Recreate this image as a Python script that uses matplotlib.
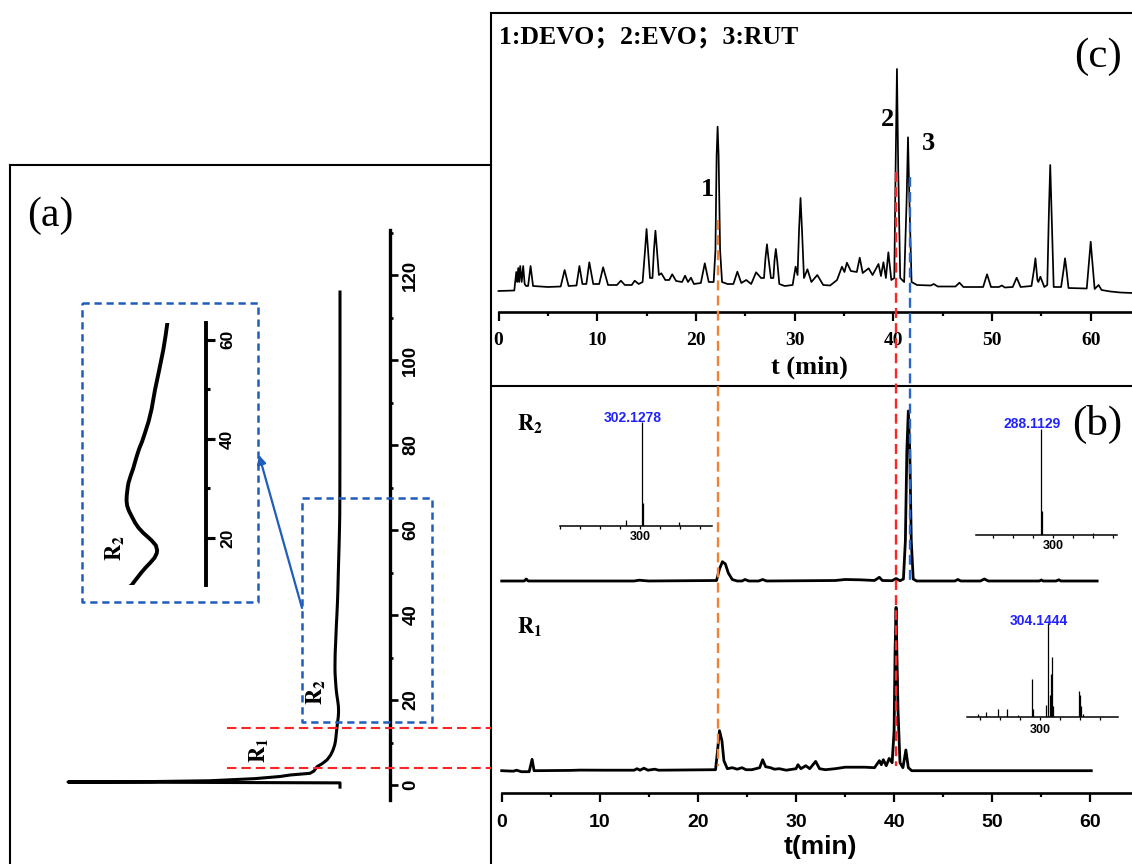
import matplotlib

matplotlib.use("Agg")
import matplotlib.pyplot as plt
from matplotlib.ticker import FixedLocator, MultipleLocator, NullFormatter

plt.rcParams["mathtext.fontset"] = "stix"

SERIF = "Liberation Serif"
SANS = "Liberation Sans"
BLUE = "#1f5dbd"
ORANGE = "#ee8335"
RED = "#ff2424"
MS_BLUE = "#2222ff"

# ---------------- data ----------------
# (a) CCC elution profile: time (min) vs. absorbance (rotated plot)
a_time = [-0.5, 0.5, 0.62, 0.7, 0.8, 1.0, 1.5, 2.0, 2.35, 2.75,
          3.3, 4.3, 5.0, 5.9, 7.0, 8.2, 9.5, 10.5, 11.0, 12.0,
          13.0, 14.0, 15.0, 16.0, 16.9, 17.5, 18.5, 19.5, 20.3, 21.0,
          22.0, 23.0, 24.3, 25.5, 26.5, 27.5, 28.5, 30.0, 31.1, 32.5,
          34.0, 35.5, 36.5, 38.0, 39.5, 41.2, 43.5, 46.0, 49.9, 54.0,
          58.0, 61.0, 63.4, 68.0, 75.0, 85.0, 100.0, 116.0]
a_signal = [0, 0, 150, 272, 190, 130, 85, 60, 50, 30,
            26, 23, 18, 13, 9.5, 7.0, 5.2, 4.4, 4.2, 3.75,
            3.3, 2.8, 2.25, 1.75, 1.5, 1.45, 1.6, 2.1, 2.6, 3.06,
            3.6, 4.0, 4.4, 4.75, 4.95, 5.02, 5.0, 4.9, 4.8, 4.55,
            4.25, 4.0, 3.83, 3.55, 3.2, 2.87, 2.45, 2.1, 1.7, 1.2,
            0.73, 0.45, 0.26, 0.15, 0.1, 0.05, 0.0, 0.0]
a_ticks = [0, 20, 40, 60, 80, 100, 120]
a_zoom_ticks = [20, 40, 60]

# (c) crude extract HPLC
c_time = [0.0, 1.6, 1.8, 1.9, 2.0, 2.1, 2.2, 2.35, 2.5, 2.65,
          2.8, 3.0, 3.25, 3.5, 5.0, 6.3, 6.7, 7.1, 7.9, 8.2,
          8.5, 8.9, 9.2, 9.6, 10.2, 10.6, 11.1, 12.0, 12.4, 12.8,
          13.5, 13.8, 14.2, 14.6, 14.85, 15.0, 15.15, 15.35, 15.6, 15.75,
          15.9, 16.05, 16.25, 16.5, 16.9, 17.3, 17.6, 18.0, 18.6, 18.9,
          19.2, 19.5, 19.8, 20.5, 20.9, 21.3, 21.8, 21.98, 22.1, 22.2,
          22.3, 22.45, 22.65, 23.2, 23.8, 24.2, 24.6, 25.1, 25.6, 26.1,
          26.6, 26.9, 27.05, 27.2, 27.35, 27.6, 27.85, 27.97, 28.1, 28.25,
          28.45, 29.0, 29.8, 30.1, 30.3, 30.45, 30.6, 30.75, 30.95, 31.3,
          31.7, 32.3, 32.9, 33.6, 34.3, 34.8, 35.05, 35.3, 35.7, 36.3,
          36.6, 36.9, 37.5, 37.9, 38.5, 38.75, 39.0, 39.25, 39.5, 39.8,
          40.1, 40.23, 40.37, 40.5, 40.7, 41.1, 41.35, 41.49, 41.63, 41.85,
          42.4, 43.8, 44.1, 44.5, 46.3, 46.7, 47.1, 49.1, 49.5, 49.9,
          50.7, 51.0, 51.3, 52.1, 52.5, 52.9, 54.0, 54.25, 54.4, 54.6,
          54.7, 54.9, 55.3, 55.6, 55.77, 55.9, 56.03, 56.25, 57.0, 57.25,
          57.4, 57.55, 57.75, 59.6, 59.85, 60.0, 60.15, 60.4, 60.8, 61.1,
          62.0, 63.0, 64.2]
c_signal = [-1, -0.5, 18, 8, 22, 8, 24, 8, 24, 6,
            4, 4, 24, 4, 3, 3.5, 20, 4, 4.5, 24,
            6, 6, 27.7, 6, 6, 22.7, 5, 5, 9.3, 5,
            5, 9.3, 6, 8, 40, 61, 40, 12, 12, 40,
            59.3, 40, 15, 16.7, 10, 10, 15.7, 9, 8, 14.3,
            8, 12.3, 6, 7, 26.7, 8, 8, 40, 135, 163.3,
            135, 40, 8, 6, 6, 18.3, 7, 10, 6, 17.7,
            12, 12, 32, 45.7, 32, 12, 12, 30, 41, 28,
            6, 4, 5, 23.3, 15, 60, 92, 60, 12, 20.7,
            8, 15, 5, 4.5, 10, 23.3, 18, 27.3, 19, 18,
            32.3, 17, 21.7, 15, 26, 14, 27.7, 12, 37.7, 10,
            12, 120, 221, 120, 12, 8, 90, 152.7, 90, 8,
            5, 4.5, 6, 3.5, 3.5, 7.3, 3, 3, 15.7, 3,
            3, 4.5, 2.5, 3, 12.3, 3, 4, 20, 31.7, 10,
            8, 13.3, 3, 5, 80, 125, 80, 3, 3, 20,
            31.7, 20, 2, 1.5, 30, 48.3, 30, 1, 5, 0,
            -1.5, -2.5, -3]
c_ticks = [0, 10, 20, 30, 40, 50, 60]

# (b) fractions R2 and R1
b2_time = [0.0, 2.3, 2.5, 2.7, 13.5, 14.0, 15.0, 21.9, 22.2, 22.5,
           22.8, 23.1, 23.5, 24.0, 24.5, 24.8, 25.2, 26.2, 26.6, 27.0,
           34.0, 35.0, 36.5, 38.0, 38.5, 38.8, 39.8, 40.2, 40.6, 40.95,
           41.15, 41.3, 41.45, 41.6, 41.75, 41.95, 42.3, 46.2, 46.5, 46.8,
           48.8, 49.2, 49.6, 54.8, 55.0, 55.2, 56.5, 56.8, 57.0, 60.7]
b2_signal = [0, 0, 2, 0, 0, 0.8, 0, 0.5, 12, 19.3,
             17, 8, 1.5, 0, 0, 1.5, 0, 0, 1.5, 0,
             0.5, 1.5, 1.2, 0.5, 3.7, 0.5, 0.3, 2.5, 0.3, 2,
             40, 130, 170, 130, 40, 2, 0, 0, 1.5, 0,
             0, 2, 0, 0, 1, 0, 0, 1.2, 0, 0]
b1_time = [0.0, 1.2, 1.5, 2.0, 2.8, 3.1, 3.3, 7.0, 8.0, 10.5,
           13.5, 13.8, 14.1, 14.5, 14.9, 15.6, 16.0, 21.8, 22.0, 22.2,
           22.45, 22.65, 23.0, 23.5, 24.0, 24.5, 24.9, 25.5, 26.3, 26.6,
           26.9, 27.4, 27.8, 28.3, 29.0, 30.0, 30.2, 30.5, 31.0, 31.4,
           32.0, 32.4, 33.0, 34.0, 35.0, 37.0, 38.0, 38.5, 38.7, 38.9,
           39.2, 39.5, 39.8, 40.0, 40.1, 40.2, 40.3, 40.4, 40.6, 40.9,
           41.2, 41.45, 41.8, 60.1]
b1_signal = [0, -0.5, 0.5, -1, -1, 11.4, 0, 0.3, 0.6, 0.5,
             0.5, 2, 0.5, 2.5, 0.5, 1.5, 0.5, 1, 20, 40,
             30, 10, 2, 3, 1.5, 3, 1, 1, 3, 11,
             4, 3, 1.5, 2, 0.5, 2, 6, 2, 5, 2,
             9.3, 2, 1, 2, 3.5, 3.5, 3, 10, 6, 11,
             5, 12.3, 8, 40, 120, 163.3, 110, 60, 8, 3,
             20.7, 3, 0, 0]
b_ticks = [0, 10, 20, 30, 40, 50, 60]

# MS spectra (m/z, relative intensity %)
ms1_mz = [285.7, 302.13, 303.13, 339.0]
ms1_int = [5.5, 100, 21.8, 3.8]
ms2_mz = [288.11, 289.11, 339.5]
ms2_int = [100, 22.5, 2.0]
ms3_mz = [268.9, 273.0, 279.2, 283.7, 289.2, 295.9, 296.5, 302.9, 304.14,
          304.8, 305.5, 305.9, 306.6, 319.3, 320.0, 320.7, 321.3]
ms3_int = [2.9, 4.7, 8.2, 8.2, 1.6, 40, 8.2, 12.5, 100,
           23.2, 45.7, 64.2, 11.5, 27.8, 23.2, 11.5, 2.9]

# ---------------- figure ----------------
W, H = 1132, 864
fig = plt.figure(figsize=(W / 100, H / 100), dpi=100)


def px_axes(x0, y0, x1, y1):
    ax = fig.add_axes([x0 / W, 1 - y1 / H, (x1 - x0) / W, (y1 - y0) / H])
    ax.patch.set_visible(False)
    for sp in ax.spines.values():
        sp.set_visible(False)
    return ax


def rotated_axis(ax, ticks, size, lw, major_len, minor_len, pad):
    ax.spines["right"].set_visible(True)
    ax.spines["right"].set_linewidth(lw)
    ax.set_xticks([])
    ax.yaxis.tick_right()
    ax.set_yticks(ticks)
    ax.set_yticklabels([str(v) for v in ticks], rotation=90, fontsize=size,
                       fontweight="bold", fontfamily=SANS, va="center")
    ax.yaxis.set_minor_locator(MultipleLocator(10))
    ax.tick_params(axis="y", which="major", direction="out", length=major_len,
                   width=lw * 0.8, pad=pad)
    ax.tick_params(axis="y", which="minor", direction="out", length=minor_len,
                   width=lw * 0.8)


def time_axis(ax, ticks, family, pad):
    ax.spines["bottom"].set_visible(True)
    ax.spines["bottom"].set_linewidth(1.9)
    ax.set_yticks([])
    ax.set_xticks(ticks)
    ax.set_xticklabels([str(v) for v in ticks], fontsize=14, fontweight="bold",
                       fontfamily=family)
    ax.xaxis.set_minor_locator(MultipleLocator(5))
    ax.tick_params(axis="x", which="major", direction="out", length=6.5, width=1.6, pad=pad)
    ax.tick_params(axis="x", which="minor", direction="out", length=3.2, width=1.6)


def ms_axes(box, mz, inten, lo, hi, step, label, off, pad):
    ax = px_axes(*box)
    ax.vlines(mz, 0, inten, color="k", lw=0.9)
    ax.set_xlim(lo, hi)
    ax.set_ylim(0, 106)
    ax.spines["bottom"].set_visible(True)
    ax.spines["bottom"].set_linewidth(1.1)
    ax.set_yticks([])
    ax.xaxis.set_major_locator(FixedLocator([300]))
    ax.xaxis.set_minor_locator(MultipleLocator(step))
    ax.xaxis.set_minor_formatter(NullFormatter())
    ax.set_xticklabels(["300"], fontsize=9, fontweight="bold", fontfamily=SANS)
    ax.tick_params(axis="x", which="both", direction="out", length=2.3, width=0.9, pad=pad)
    top = max(inten)
    ax.annotate(label, xy=(mz[inten.index(top)], top), xytext=off,
                textcoords="offset pixels", ha="center", va="center",
                color=MS_BLUE, fontsize=10, fontweight="bold", fontfamily=SANS)
    return ax


# (a) rotated elution profile and its zoom
ax_a = px_axes(40, 230, 390, 800)
ax_a.plot(a_signal, a_time, color="k", lw=2.2, solid_joinstyle="round", clip_on=False)
ax_a.set_xlim(300, -50)
ax_a.set_ylim(-3.53, 130.6)
rotated_axis(ax_a, a_ticks, 13.5, 2.4, 5.5, 2.5, 3.4)

ax_z = px_axes(110, 323, 206, 585)
ax_z.plot(a_signal, a_time, color="k", lw=2.8, solid_joinstyle="round")
ax_z.set_xlim(6.95, -4.25)
ax_z.set_ylim(10.5, 63.4)
rotated_axis(ax_z, a_zoom_ticks, 12.5, 2.8, 6.5, 3.2, 3.6)

# (c) crude sample
ax_c = px_axes(498.5, 50, 1132, 312.3)
ax_c.plot(c_time, c_signal, color="k", lw=1.25, solid_joinstyle="round", clip_on=False)
ax_c.set_xlim(0, (1132 - 498.5) / 9.87)
ax_c.set_ylim(-22.3, 240)
time_axis(ax_c, c_ticks, SERIF, 7.5)

# (b) fractions
b_xmax = (1132 - 501.7) / 9.81
ax_b2 = px_axes(501.7, 395, 1132, 600)
ax_b2.plot(b2_time, b2_signal, color="k", lw=2.0, solid_joinstyle="round", clip_on=False)
ax_b2.set_xlim(0, b_xmax)
ax_b2.set_ylim(-19, 186)
ax_b2.set_xticks([])
ax_b2.set_yticks([])

ax_b1 = px_axes(501.7, 600, 1132, 793.3)
ax_b1.plot(b1_time, b1_signal, color="k", lw=2.0, solid_joinstyle="round", clip_on=False)
ax_b1.set_xlim(0, b_xmax)
ax_b1.set_ylim(-22.6, 170.7)
time_axis(ax_b1, b_ticks, SANS, 8.5)

ms_axes((560, 525.7 - 106 * 1.04, 712.3, 525.7), ms1_mz, ms1_int, 220, 372.3, 20,
        "302.1278", (-9, 4), 1.5)
ms_axes((976, 535 - 106 * 1.057, 1116.7, 535), ms2_mz, ms2_int, 222.7, 363.4, 20,
        "288.1129", (-9, 5), 1.0)
ms_axes((966.7, 716.7 - 106 * 0.934, 1118, 716.7), ms3_mz, ms3_int, 263.35, 339.0, 10,
        "304.1444", (-9.5, 2.6), 3.0)

# ---------------- overlay: frames, guides, labels ----------------
ov = fig.add_axes([0, 0, 1, 1])
ov.set_xlim(0, W)
ov.set_ylim(H, 0)
ov.axis("off")
ov.patch.set_visible(False)

frame = dict(color="k", lw=1.5, solid_capstyle="projecting")
ov.plot([9.5, 9.5], [H, 165], **frame)
ov.plot([9.5, 491], [165, 165], **frame)
ov.plot([491, 491], [13, H], **frame)
ov.plot([491, W], [13, 13], **frame)
ov.plot([491, W], [386, 386], **frame)

ov.plot([227, 491], [727.7, 727.7], color=RED, lw=1.5, ls=(0, (4.5, 2.4)))
ov.plot([227, 491], [768.3, 768.3], color=RED, lw=1.5, ls=(0, (4.5, 2.4)))

box = dict(color=BLUE, lw=1.8, ls=(0, (2.9, 1.9)))
ov.plot([81.7, 257.7, 257.7, 81.7, 81.7], [303, 303, 602, 602, 303], **box)
ov.plot([302, 432, 432, 302, 302], [498, 498, 721.7, 721.7, 498], **box)
ov.annotate("", xy=(259, 455), xytext=(302, 608),
            arrowprops=dict(arrowstyle="-|>", color=BLUE, lw=1.6,
                            mutation_scale=13, shrinkA=0, shrinkB=0))

ov.plot([718.3, 718.3], [220, 766], color=ORANGE, lw=1.7, ls=(0, (4.2, 2.2)))
ov.plot([896, 896], [172, 766], color=RED, lw=1.7, ls=(0, (4.2, 2.2)))
ov.plot([909.5, 909.5], [177, 581], color="#2a64c8", lw=1.7, ls=(0, (4.2, 2.2)))

ov.text(50, 216, "(a)", fontsize=30, fontfamily=SERIF, ha="center", va="center")
ov.text(1098, 56.5, "(c)", fontsize=31, fontfamily=SERIF, ha="center", va="center")
ov.text(1097.5, 424, "(b)", fontsize=31, fontfamily=SERIF, ha="center", va="center")

ov.text(499, 37, "1:DEVO；2:EVO；3:RUT", fontsize=18.5, fontweight="bold",
        family=[SERIF, "Noto Sans CJK SC"], ha="left", va="center")
peak_font = dict(fontsize=19, fontweight="bold", fontfamily=SERIF, ha="center", va="center")
ov.text(707.5, 189, "1", **peak_font)
ov.text(887, 120, "2", **peak_font)
ov.text(928, 143, "3", **peak_font)

ov.text(809, 367, "t (min)", fontsize=19, fontweight="bold", fontfamily=SERIF,
        ha="center", va="center")
ov.text(820, 847, "t(min)", fontsize=19, fontweight="bold", fontfamily=SANS,
        ha="center", va="center")

ov.text(516.6, 430, r"$\mathbf{R}_{\mathbf{2}}$", fontsize=16, ha="left", va="baseline")
ov.text(516.6, 633.3, r"$\mathbf{R}_{\mathbf{1}}$", fontsize=16, ha="left", va="baseline")
ov.text(259, 750.5, r"$\mathbf{R}_{\mathbf{1}}$", fontsize=16, rotation=90, ha="center", va="center")
ov.text(315.5, 692.5, r"$\mathbf{R}_{\mathbf{2}}$", fontsize=16, rotation=90, ha="center", va="center")
ov.text(115, 548, r"$\mathbf{R}_{\mathbf{2}}$", fontsize=16, rotation=90, ha="center", va="center")

fig.savefig("out.png", dpi=100)
